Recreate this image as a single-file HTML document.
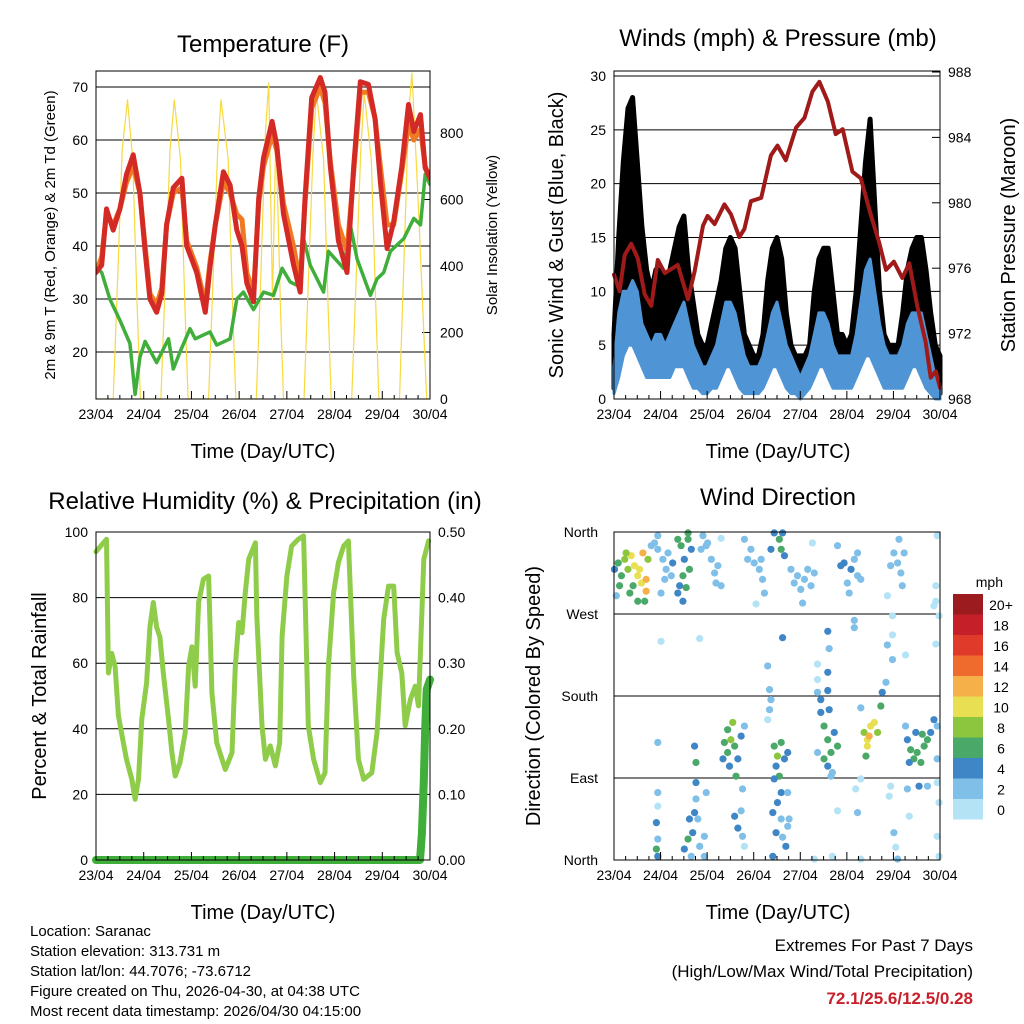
<!DOCTYPE html>
<html><head><meta charset="utf-8"><style>
body{margin:0;background:#fff;}
svg{display:block;font-family:"Liberation Sans",Arial,sans-serif;}
</style></head><body>
<svg id="c" width="1024" height="1024" viewBox="0 0 1024 1024" xmlns="http://www.w3.org/2000/svg">
<rect width="1024" height="1024" fill="#fff"/>
<text x="263" y="52" font-size="24" text-anchor="middle">Temperature (F)</text>
<text x="778" y="46" font-size="24" text-anchor="middle">Winds (mph) &amp; Pressure (mb)</text>
<text x="265" y="509" font-size="24" text-anchor="middle">Relative Humidity (%) &amp; Precipitation (in)</text>
<text x="778" y="505" font-size="24" text-anchor="middle">Wind Direction</text>
<text x="263" y="458" font-size="20" text-anchor="middle">Time (Day/UTC)</text>
<text x="778" y="458" font-size="20" text-anchor="middle">Time (Day/UTC)</text>
<text x="263" y="919" font-size="20" text-anchor="middle">Time (Day/UTC)</text>
<text x="778" y="919" font-size="20" text-anchor="middle">Time (Day/UTC)</text>
<text transform="translate(55,235) rotate(-90)" font-size="15" text-anchor="middle">2m &amp; 9m T (Red, Orange) &amp; 2m Td (Green)</text>
<text transform="translate(497,235) rotate(-90)" font-size="15" text-anchor="middle">Solar Insolation (Yellow)</text>
<text transform="translate(563,235) rotate(-90)" font-size="20" text-anchor="middle">Sonic Wind &amp; Gust (Blue, Black)</text>
<text transform="translate(1015,235) rotate(-90)" font-size="20" text-anchor="middle">Station Pressure (Maroon)</text>
<text transform="translate(46,696) rotate(-90)" font-size="20" text-anchor="middle">Percent &amp; Total Rainfall</text>
<text transform="translate(540,696) rotate(-90)" font-size="20" text-anchor="middle">Direction (Colored By Speed)</text>
<g font-size="15">
<text x="30" y="936">Location: Saranac</text>
<text x="30" y="956">Station elevation: 313.731 m</text>
<text x="30" y="976">Station lat/lon: 44.7076; -73.6712</text>
<text x="30" y="996">Figure created on Thu, 2026-04-30, at 04:38 UTC</text>
<text x="30" y="1016">Most recent data timestamp: 2026/04/30 04:15:00</text>
</g>
<g text-anchor="end">
<text x="973" y="951" font-size="17">Extremes For Past 7 Days</text>
<text x="973" y="977" font-size="17">(High/Low/Max Wind/Total Precipitation)</text>
<text x="973" y="1004" font-size="17" font-weight="bold" fill="#c8202a">72.1/25.6/12.5/0.28</text>
</g>
<g id="layer"></g>
</svg>
<script>
// ---- data ----
var dayLabels=["23/04","24/04","25/04","26/04","27/04","28/04","29/04","30/04"];
var tTimes=[0,0.12,0.22,0.36,0.50,0.64,0.78,0.92,1.03,1.13,1.27,1.38,1.48,1.62,1.80,1.90,2.11,2.29,2.39,2.50,2.67,2.81,2.95,3.06,3.16,3.30,3.41,3.51,3.69,3.79,3.93,4.14,4.28,4.38,4.52,4.70,4.80,4.91,5.08,5.26,5.40,5.54,5.71,5.85,5.96,6.10,6.24,6.41,6.55,6.66,6.80,6.90,7.0];
var temp2m=[35,36.4,47,43,47,53.5,57.2,50,39,30,27.5,31,44,51,52.8,40,35,27.5,36,44,54,51.5,43,40,33,29.5,49,56.6,63.5,59,46,36.5,31.3,49,68,71.8,69,55,41,35,55,71,70.5,64,52,39.5,44.6,55,66.7,61.6,64.8,54.7,52.8];
var temp9m=[35,38,46,44,47,52,55,50,40,31,29,32,44,50,51,41,36,29,37,44,52,50,46,45,35,31,48,55,61,58,48,40,33,48,66,70,67,56,44,39,54,69,69,64,55,44,44,54,63,60,62,55,53];
var tdTimes=[0,0.12,0.29,0.50,0.71,0.82,0.92,1.03,1.27,1.52,1.62,1.76,1.97,2.08,2.39,2.53,2.81,2.95,3.09,3.30,3.51,3.72,3.90,4.07,4.28,4.35,4.49,4.77,4.87,5.19,5.33,5.47,5.75,5.89,6.03,6.17,6.31,6.45,6.66,6.80,6.90,7.0];
var dewpt=[36,35,30,26,21.6,12,19,22,18,22.5,16.8,20,24.4,22.5,23.8,21.3,22.5,30,31.3,28,31.3,30.7,35.8,33.2,32.3,41.4,36.4,31.3,39,35.8,44,37.6,30.7,33.8,35,39,40.2,41.4,45.2,44,53.5,51.6];
var solarTimes=[0,0.36,0.45,0.55,0.66,0.77,0.87,0.93,1.36,1.45,1.55,1.64,1.77,1.87,1.93,2.36,2.45,2.55,2.62,2.77,2.87,2.93,3.36,3.45,3.55,3.62,3.7,3.77,3.87,3.93,4.36,4.45,4.55,4.62,4.77,4.87,4.93,5.36,5.45,5.55,5.62,5.77,5.87,5.93,6.36,6.45,6.55,6.62,6.75,6.87,6.93,7];
var solar=[0,0,350,750,900,720,250,0,0,350,750,900,720,250,0,0,350,750,900,720,250,0,0,350,800,950,300,800,250,0,0,350,750,920,720,250,0,0,350,750,920,720,250,0,0,400,850,980,600,200,0,0];
var windTimes=[0,0.1,0.2,0.3,0.4,0.5,0.6,0.7,0.8,0.9,1,1.1,1.2,1.3,1.4,1.5,1.6,1.7,1.8,1.9,2,2.1,2.2,2.3,2.4,2.5,2.6,2.7,2.8,2.9,3,3.1,3.2,3.3,3.4,3.5,3.6,3.7,3.8,3.9,4,4.1,4.2,4.3,4.4,4.5,4.6,4.7,4.8,4.9,5,5.1,5.2,5.3,5.4,5.5,5.6,5.7,5.8,5.9,6,6.1,6.2,6.3,6.4,6.5,6.6,6.7,6.8,6.9,7];
var gustHigh=[6,15,22,27,28,22,16,12,10,12, 12,11,12,14,16,17,12,9,6,5, 5,7,9,11,14,15,14,10,6,5, 4,4,6,11,14,15,13,8,5,4, 4,4,5,10,13,14,14,10,6,6, 5,6,10,16,22,26,18,10,6,5, 5,5,8,12,14,15,15,12,8,5, 4];
var gustLow=[1,4,8,10,11,8,5,4,4,4, 4,3,4,5,6,6,4,3,2,2, 2,2,3,4,6,7,5,3,2,2, 1,1,2,4,6,7,5,3,2,2, 1,1,2,4,6,6,5,3,2,2, 2,2,3,6,8,8,5,3,2,2, 2,2,3,5,6,6,5,3,1,1, 0.5];
var sonicHigh=[3,8,10,10,11,10,7,6,5,6, 6,5,6,7,8,9,7,5,4,3, 3,4,5,7,9,9,8,6,4,3, 3,3,4,6,8,9,7,5,4,3, 2,3,4,6,8,8,7,5,4,4, 4,4,6,9,12,13,10,7,5,4, 4,4,5,7,8,8,8,6,4,2, 1];
var sonicLow=[0.5,2,4,5,5,4,3,2,2,2, 2,2,2,3,3,3,2,1,1,0.5, 0.5,1,1,2,3,3,2,1,0.5,0.5, 0.5,0.5,1,2,3,3,2,1,0.5,0.5, 0,0.5,1,2,3,3,2,1,1,1, 1,1,2,3,4,4,3,2,1,1, 1,1,1,2,3,3,2,1,0.5,0, 0];
var presTimes=[0,0.12,0.23,0.37,0.51,0.66,0.8,0.94,1.09,1.37,1.59,1.73,1.91,2.01,2.16,2.37,2.51,2.69,2.8,2.94,3.16,3.37,3.51,3.69,3.91,4.09,4.26,4.41,4.59,4.76,4.91,5.12,5.3,5.51,5.69,5.84,6.01,6.19,6.34,6.51,6.69,6.8,6.91,7.0];
var pressure=[975.6,974.6,976.8,977.5,976.6,974.4,973.7,976.5,975.7,976.2,974.1,975.8,978.6,979.2,978.7,979.9,979.3,977.9,978.4,980.1,980.3,982.9,983.5,982.6,984.6,985.2,986.8,987.4,986.2,984.2,984.5,981.9,981.5,979.3,977.6,975.9,976.4,975.4,976.3,973.7,971.5,969.3,969.7,968.7];
var rhTimes=[0,0.22,0.26,0.33,0.40,0.47,0.57,0.64,0.75,0.82,0.89,0.96,1.06,1.13,1.20,1.27,1.34,1.41,1.52,1.59,1.66,1.76,1.87,1.94,2.01,2.08,2.15,2.25,2.36,2.43,2.53,2.64,2.71,2.85,2.92,2.99,3.06,3.13,3.20,3.34,3.37,3.48,3.55,3.65,3.76,3.85,3.90,4.0,4.10,4.24,4.35,4.45,4.56,4.70,4.80,4.87,4.98,5.08,5.19,5.29,5.40,5.50,5.61,5.78,5.89,6.03,6.13,6.24,6.31,6.41,6.48,6.59,6.69,6.76,6.87,6.97];
var rh=[94,97.8,57,63,59,44,36,30.7,24.6,18.5,24.6,43,54,71,78.5,71,68,57,43,32.7,25.6,29.7,38.8,59,65,53,78.5,85.6,86.6,51,35.8,30.7,27.6,32.7,59,72.4,69.3,81.5,91.7,96.7,74.4,40.9,30.7,34.8,28.7,35.8,68.3,86.6,95.7,97.8,98.8,40.9,30.7,23.6,26.6,59,81.5,90.7,95.7,97.3,56,30.7,24.6,26.6,38.8,73.4,83.5,83.5,63.2,57,40.9,49,53,47,91.7,97.3];
var rainTimes=[0,6.79,6.83,6.87,6.9,6.93,7];
var rain=[0,0,0.04,0.12,0.2,0.26,0.275];
var dirTimes=[0.01,0.09,0.16,0.23,0.30,0.37,0.44,0.51,0.59,0.62,0.69,0.73,0.55,0.41,0.12,0.51,0.66,0.69,0.05,0.80,0.34,0.26,
0.87,0.94,1.05,1.12,1.16,1.23,1.01,1.09,0.94,1.26,
1.37,1.44,1.51,1.59,1.62,1.48,1.41,1.37,1.55,1.66,1.48,1.59,
1.91,1.98,2.09,2.16,2.23,2.01,2.30,2.19,1.87,2.30,
2.80,2.94,3.01,3.12,3.19,3.23,3.05,2.87,3.16,
3.37,3.44,3.55,3.59,3.66,3.62,
3.80,3.94,4.09,4.16,4.23,4.01,3.87,4.30,4.26,4.05,
4.87,4.94,5.09,5.16,5.23,5.05,5.30,5.01,4.80,5.23,
6.01,6.09,6.16,6.19,5.94,6.12,6.23,5.87,6.94,6.91,6.91,6.87,
1.01,1.84,3.62,4.59,4.62,5.16,5.16,5.98,5.98,5.87,6.26,5.98,6.91,6.98,
3.30,3.34,3.37,3.34,3.30,4.59,4.37,4.37,4.59,4.37,
2.37,2.44,2.51,2.59,2.66,2.55,2.48,2.34,2.73,2.62,2.80,2.44,
3.44,3.51,3.59,3.66,3.48,3.73,3.55,
4.44,4.51,4.59,4.66,4.73,4.80,4.51,4.37,4.59,4.69,4.44,4.62,
5.37,5.44,5.51,5.59,5.66,5.48,5.44,5.41,5.73,5.76,5.84,5.30,
6.30,6.37,6.44,6.51,6.59,6.66,6.73,6.80,6.87,6.94,6.34,6.62,6.48,6.26,6.94,
0.94,0.94,0.94,0.91,0.94,0.91,0.94,1.73,1.76,1.76,1.76,1.73,1.62,1.69,1.59,1.51,1.66,1.84,1.94,1.94,1.98,1.80,
2.59,2.66,2.76,2.76,2.80,2.73,
3.44,3.59,3.51,3.41,3.59,3.48,3.62,3.73,3.41,3.69,3.76,3.73,
4.66,4.80,5.19,5.23,5.30,5.94,5.91,6.01,6.05,6.30,6.34,6.55,6.73,6.94,6.98,6.94,6.98,4.30,4.69,5.30,6.09];
var dirDegs=[319,326,312,330,319,334,323,312,304,337,308,330,319,301,301,284,284,295,290,345,293,337,
348,341,330,319,337,312,293,308,356,326,
352,345,330,352,319,312,301,293,299,341,284,359,
356,345,330,315,323,348,301,304,341,353,
352,341,326,319,308,293,281,330,330,
341,359,352,341,334,359,
319,312,308,319,301,297,304,315,348,282,
323,326,319,330,312,293,308,304,345,337,
337,326,315,301,323,352,337,290,356,301,284,279,
240,243,244,251,232,263,255,268,247,236,225,220,237,268,
213,187,176,165,154,206,215,198,186,184,
129,118,132,125,111,151,103,111,136,92,147,143,
125,114,129,111,103,118,92,
162,147,132,118,140,125,111,118,103,96,176,165,
140,132,147,151,140,136,125,114,169,184,195,167,
132,121,111,118,107,125,132,140,154,147,107,138,140,147,111,
129,74,59,41,23,12,4,125,107,85,67,52,45,30,23,12,4,15,26,4,74,45,
48,35,78,26,15,54,
89,74,63,52,45,30,25,37,4,15,45,74,
92,54,78,52,89,81,70,30,14,78,48,81,81,85,63,26,4,1,4,1,1];
var dirSpeeds=[4,6,6,8,8,10,10,10,10,12,13,8,10,6,6,7,7,12,3,2,6,8,
2,2,2,2,3,3,2,2,2,4,
6,6,5,7,6,6,4,4,6,4,4,6,
2,2,2,2,2,2,2,2,2,1,
2,2,2,2,2,2,1,2,2,
4,4,6,6,4,4,
2,2,2,2,2,2,2,2,1,2,
4,4,4,3,2,2,2,3,2,2,
2,2,2,2,2,2,2,1,1,1,1,1,
1,1,4,4,2,2,2,1,1,2,1,2,1,1,
2,2,2,2,1,4,1,1,4,2,
6,6,8,6,5,8,5,4,4,7,2,6,
6,8,7,4,5,4,6,
4,6,6,6,4,7,6,3,4,3,4,4,
8,10,10,11,8,13,10,6,6,4,3,2,
4,6,6,6,6,6,6,4,4,3,4,6,4,2,2,
2,2,1,4,3,6,4,4,6,4,3,4,4,5,6,4,3,2,3,2,2,2,
4,4,2,2,1,2,
4,4,4,4,2,4,3,2,4,4,2,3,
2,1,1,2,1,1,1,2,1,2,1,4,2,1,1,1,1,1,1,1,2];
var cbLabels=["20+","18","16","14","12","10","8","6","4","2","0"];
var cbColors=["#9b1b1e","#c5202a","#e03a2a","#ef6a2d","#f5b04a","#e8e052","#8cc63f","#4aa869","#3f86c6","#7fbfe8","#b3e3f5"];

// ---- helpers ----
var NS="http://www.w3.org/2000/svg", L=document.getElementById('layer');
function mk(tag,at,name,parent){var e=document.createElementNS(NS,tag);for(var k in at)e.setAttribute(k,at[k]);


(parent||L).appendChild(e);return e;}
function txt(x,y,s,size,anchor,name){var t=mk('text',{x:x,y:y,'font-size':size,'text-anchor':anchor},name);t.textContent=s;return t;}
function scale(d0,d1,r0,r1){return function(v){return r0+(v-d0)/(d1-d0)*(r1-r0);};}
function line(xs,ys,fx,fy,color,w,name){var p=xs.map(function(t,i){return fx(t).toFixed(1)+','+fy(ys[i]).toFixed(1);}).join(' ');
return mk('polyline',{points:p,fill:'none',stroke:color,'stroke-width':w,'stroke-linejoin':'round','stroke-linecap':'round'},name);}
function band(xs,lo,hi,fx,fy,color,w,name){var a=xs.map(function(t,i){return fx(t).toFixed(1)+','+fy(hi[i]).toFixed(1);});
var b=xs.map(function(t,i){return fx(t).toFixed(1)+','+fy(lo[i]).toFixed(1);}).reverse();
return mk('polygon',{points:a.concat(b).join(' '),fill:color,stroke:color,'stroke-width':w,'stroke-linejoin':'round'},name);}
function frame(x0,y0,x1,y1,name){mk('rect',{x:x0,y:y0,width:x1-x0,height:y1-y0,fill:'none',stroke:'#000','stroke-width':1},name);}
function xaxis(x0,x1,yb,name){var fx=scale(0,7,x0,x1);
dayLabels.forEach(function(l,i){var x=fx(i);mk('line',{x1:x,y1:yb,x2:x,y2:yb-8,stroke:'#000'},name+'-tick');
for(var k=1;k<4&&i<7;k++){var xm=fx(i+k/4);mk('line',{x1:xm,y1:yb,x2:xm,y2:yb-4,stroke:'#000'},name+'-minor-tick');}
txt(x,yb+20,l,14,'middle',name+'-label');});return fx;}
function hgrid(x0,x1,y,name){mk('line',{x1:x0,y1:y,x2:x1,y2:y,stroke:'#000','stroke-width':1},name);}

// ---- Panel 1: temperature ----
(function(){var x0=96,x1=430,y0=71,y1=399;
var fx=scale(0,7,x0,x1), fy=scale(20,70,352,87), fs=scale(0,800,399,133);
[20,30,40,50,60,70].forEach(function(v){hgrid(x0,x1,fy(v),'temp-gridline');txt(x0-8,fy(v)+5,v,14,'end','temp-y-tick');});
[0,200,400,600,800].forEach(function(v){txt(x1+10,fs(v)+5,v,14,'start','solar-y-tick');mk('line',{x1:x1,y1:fs(v),x2:x1-8,y2:fs(v),stroke:'#000'},'solar-tick');});
var cp=mk('clipPath',{id:'cp1'},'temp-clip');mk('rect',{x:x0,y:y0,width:x1-x0,height:y1-y0},'temp-clip-rect',cp);
var g=mk('g',{'clip-path':'url(#cp1)'},'temp-series');
line(solarTimes,solar,fx,fs,'#f7d940',1.2,'solar-line').remove();g.appendChild(line(solarTimes,solar,fx,fs,'#f7d940',1.2,'solar-line'));
g.appendChild(line(tdTimes,dewpt,fx,fy,'#3fae3a',3.5,'dewpoint-line'));
g.appendChild(line(tTimes,temp9m,fx,fy,'#f07a24',5,'temp-9m-line'));
g.appendChild(line(tTimes,temp2m,fx,fy,'#d42a26',5,'temp-2m-line'));
frame(x0,y0,x1,y1,'temp-frame');xaxis(x0,x1,y1,'temp-x');})();

// ---- Panel 2: winds ----
(function(){var x0=614,x1=940,y0=71,y1=399;
var fx=scale(0,7,x0,x1), fy=scale(0,30,399,76), fp=scale(968,988,399,72);
[0,5,10,15,20,25,30].forEach(function(v){hgrid(x0,x1,fy(v),'wind-gridline');txt(x0-8,fy(v)+5,v,14,'end','wind-y-tick');});
[968,972,976,980,984,988].forEach(function(v){txt(x1+8,fp(v)+5,v,14,'start','pressure-y-tick');mk('line',{x1:x1,y1:fp(v),x2:x1-8,y2:fp(v),stroke:'#000'},'pressure-tick');});
band(windTimes,gustLow,gustHigh,fx,fy,'#000',5,'gust-band');
band(windTimes,sonicLow,sonicHigh,fx,fy,'#4f95d6',3,'sonic-wind-band');
line(presTimes,pressure,fx,fp,'#a01a1a',4,'pressure-line');
frame(x0,y0,x1,y1,'wind-frame');xaxis(x0,x1,y1,'wind-x');})();

// ---- Panel 3: RH ----
(function(){var x0=96,x1=430,y0=532,y1=860;
var fx=scale(0,7,x0,x1), fy=scale(0,100,860,532), fr=scale(0,0.5,860,532);
[0,20,40,60,80,100].forEach(function(v){hgrid(x0,x1,fy(v),'rh-gridline');txt(x0-8,fy(v)+5,v,14,'end','rh-y-tick');});
[0,0.1,0.2,0.3,0.4,0.5].forEach(function(v){txt(x1+8,fr(v)+5,v.toFixed(2),14,'start','rain-y-tick');});
line(rhTimes,rh,fx,fy,'#8fcc4a',5,'rh-line');
line(rainTimes,rain,fx,fr,'#3fae3a',8,'rain-line');
frame(x0,y0,x1,y1,'rh-frame');xaxis(x0,x1,y1,'rh-x');})();

// ---- Panel 4: wind direction ----
(function(){var x0=614,x1=940,y0=532,y1=860;
var fx=scale(0,7,x0,x1), fy=scale(0,360,860,532);
[[0,'North'],[90,'East'],[180,'South'],[270,'West'],[360,'North']].forEach(function(d){hgrid(x0,x1,fy(d[0]),'dir-gridline');txt(x0-16,fy(d[0])+5,d[1],14,'end','dir-y-tick');});
function col(s){var i=Math.min(10,Math.floor(s/2));return cbColors[10-i];}
var g=mk('g',{},'direction-points');
dirTimes.forEach(function(t,i){mk('circle',{cx:fx(t),cy:fy(dirDegs[i]),r:3.6,fill:col(dirSpeeds[i])},'direction-point',g);});
frame(x0,y0,x1,y1,'dir-frame');xaxis(x0,x1,y1,'dir-x');
txt(1003,587,'mph',14,'end','colorbar-title');
cbLabels.forEach(function(l,i){var y=594+i*20.5;mk('rect',{x:953,y:y,width:30,height:20.5,fill:cbColors[i]},'colorbar-box');
txt(1001,y+16,l,14,'middle','colorbar-label');});})();
</script>
</body></html>
